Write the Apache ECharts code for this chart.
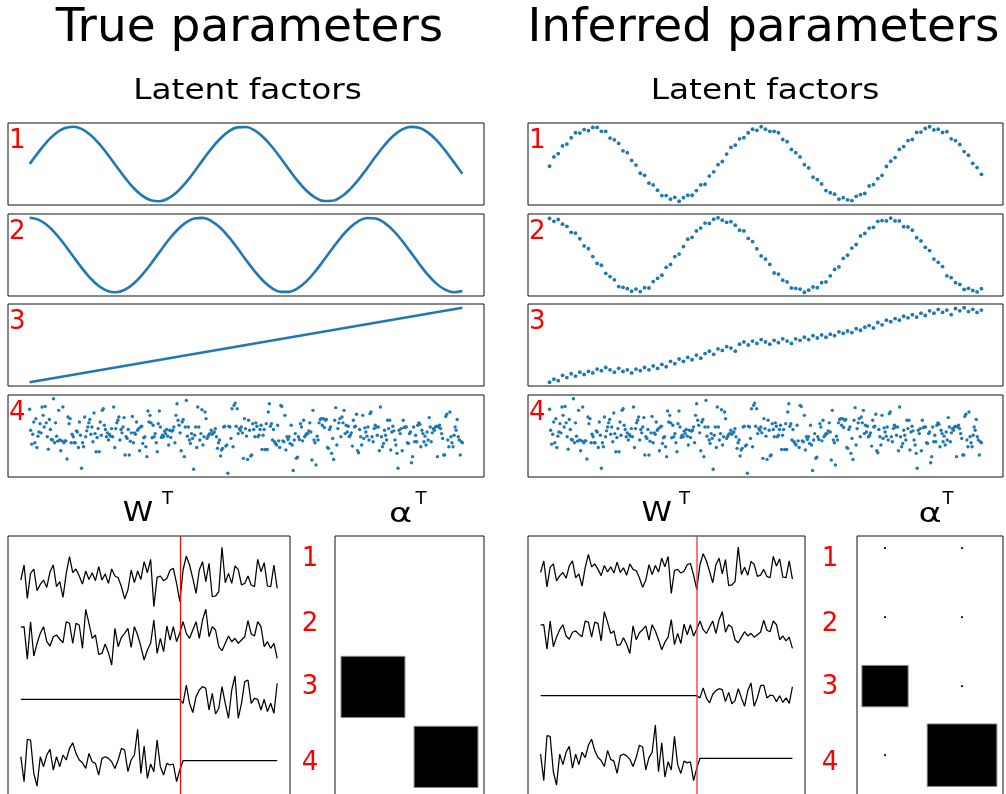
<!DOCTYPE html>
<html><head><meta charset="utf-8">
<script src="https://cdn.jsdelivr.net/npm/echarts@6/dist/echarts.min.js"></script>
<style>html,body{margin:0;padding:0;background:#fff}#c{width:1006px;height:794px}</style>
</head><body><div id="c"></div>
<script>
// ---------------- DATA ----------------
const factorLabels = ['1', '2', '3', '4'];
// true latent factors (sampled along time index)
const trueF1 = [0.000,0.314,0.596,0.818,0.957,1.000,0.941,0.787,0.553,0.264,-0.052,-0.363,-0.637,-0.847,-0.971,-0.997,-0.922,-0.753,-0.509,-0.213,0.105,0.412,0.677,0.874,0.982,0.991,0.900,0.718,0.463,0.162,-0.156,-0.459,-0.714,-0.898,-0.991,-0.983,-0.876,-0.680,-0.416,-0.110,0.208,0.504,0.750,0.920,0.996,0.972,0.850,0.641,0.368,0.058,-0.259];
const trueF2 = [1.000,0.949,0.803,0.575,0.289,-0.026,-0.339,-0.617,-0.833,-0.965,-0.999,-0.932,-0.771,-0.531,-0.239,0.078,0.388,0.658,0.861,0.977,0.995,0.911,0.736,0.487,0.187,-0.131,-0.435,-0.696,-0.886,-0.987,-0.988,-0.889,-0.700,-0.440,-0.136,0.182,0.482,0.733,0.909,0.994,0.978,0.863,0.661,0.392,0.084,-0.233,-0.527,-0.767,-0.930,-0.998,-0.966];
const trueF3 = [0.00, 1.00];
const noiseF4 = [1.77,0.38,-0.54,0.12,0.93,-0.45,1.15,-0.76,-0.01,0.27,0.82,0.21,1.92,1.37,0.60,1.96,0.87,-0.05,-0.87,1.09,0.43,-0.23,-0.27,2.47,-0.45,0.87,-0.01,-0.34,1.70,-0.27,-0.98,-0.32,1.92,-0.45,-0.32,-0.32,-1.52,1.26,0.82,1.15,-0.45,0.12,-0.05,-0.45,-0.45,0.34,0.27,-0.76,0.93,0.05,-2.14,-0.45,-0.71,1.26,-0.05,0.34,0.60,0.87,1.09,0.12,0.60,-0.38,1.52,0.16,-1.04,-0.10,0.49,-1.04,0.93,0.05,1.70,1.81,0.71,0.43,-0.05,0.21,-0.27,0.10,-0.01,0.49,-0.05,1.92,-0.76,0.49,0.87,1.04,1.26,-0.27,0.43,0.21,0.60,1.22,-1.26,-0.05,-0.16,0.43,-1.26,-0.34,0.21,1.30,-0.45,0.21,0.12,0.93,0.38,0.49,-0.98,0.60,0.65,-0.49,-0.12,-0.05,-0.71,-1.37,1.66,0.93,1.37,0.87,-0.12,0.71,-0.05,0.16,-0.45,-1.04,0.82,1.66,0.60,-0.10,0.05,-0.05,0.32,0.16,0.43,-0.01,-0.60,0.38,-0.10,0.32,0.38,0.60,-0.45,1.37,2.14,1.04,0.71,0.21,-0.98,0.93,1.09,-1.37,0.60,2.36,-0.01,0.60,-0.27,-0.49,0.16,-0.16,-2.20,0.05,0.60,-0.76,1.92,0.60,-0.27,0.16,1.74,-0.60,-0.05,1.59,1.15,-0.16,-0.01,0.12,0.16,0.38,0.12,0.21,0.27,0.49,-0.05,-0.82,-0.45,-0.27,-1.33,-0.93,-0.82,0.60,0.65,-0.67,-0.60,-2.47,0.65,0.60,-0.16,1.81,-0.71,2.03,2.18,0.65,1.81,0.16,0.49,0.38,0.60,0.21,-1.48,
1.15,0.49,-0.01,-1.55,1.04,0.38,-1.33,-1.26,0.82,0.43,-0.05,0.87,0.65,-0.05,0.05,0.43,0.71,-0.89,0.05,0.43,-0.89,0.82,-0.89,1.59,2.14,0.65,0.82,-0.27,0.43,-0.38,-0.49,-0.60,0.71,-0.32,-0.76,2.03,1.96,-0.32,-0.38,1.37,-0.93,-0.05,-0.23,-0.05,-0.49,0.71,-0.60,-2.29,-0.27,0.16,-1.48,-1.41,-0.05,-0.23,0.82,0.60,-0.32,1.04,-0.05,0.05,0.16,0.16,0.34,0.87,0.27,-1.59,1.70,-0.27,-0.45,-1.92,-0.01,-0.27,0.87,1.09,1.15,0.71,1.15,0.56,1.04,1.09,-0.76,-0.82,0.43,0.60,-1.15,-0.16,-1.55,1.04,1.88,-0.60,0.49,0.87,1.15,-0.05,1.26,0.87,1.70,0.16,0.71,0.27,0.65,-0.05,0.05,0.21,-0.67,1.04,0.60,0.65,1.44,-0.98,-1.11,0.43,-0.05,-0.60,1.37,-0.16,0.54,0.27,-0.01,0.60,-0.27,1.48,1.59,-0.05,-0.38,0.49,0.71,0.60,0.05,0.60,-0.98,1.92,-0.05,-0.71,-0.49,0.38,0.05,-0.27,1.04,0.49,1.04,-0.93,0.27,0.65,0.34,-0.27,-0.60,-1.15,-2.14,0.38,0.16,0.49,-0.98,1.04,0.56,0.60,0.60,-0.45,-0.49,0.16,0.27,-1.77,-1.37,0.60,-0.38,0.05,-0.38,0.71,0.87,0.78,-0.71,0.38,0.16,-0.38,-0.01,-0.60,0.27,-0.27,1.22,0.60,-0.38,0.21,0.49,0.38,0.60,0.65,-1.37,0.60,0.71,0.49,0.16,-0.16,-1.26,-1.26,1.30,1.44,-0.27,-0.71,1.59,-0.05,-0.45,-0.71,0.05,0.60,0.38,1.09,-0.05,-0.27,-1.26,-0.38,-0.45];
// inferred latent factors
const infF1 = [-0.06,0.20,0.29,0.51,0.56,0.74,0.88,0.87,0.97,0.94,1.03,1.03,0.92,0.92,0.73,0.68,0.58,0.37,0.32,0.10,-0.03,-0.26,-0.32,-0.54,-0.59,-0.74,-0.89,-0.89,-0.99,-0.94,-1.05,-0.95,-0.88,-0.88,-0.75,-0.59,-0.57,-0.34,-0.22,-0.02,0.07,0.28,0.47,0.53,0.71,0.74,0.88,0.98,0.95,1.05,0.98,0.92,0.92,0.88,0.69,0.63,0.41,0.32,0.20,-0.02,-0.11,-0.37,-0.44,-0.56,-0.75,-0.81,-0.85,-0.99,-0.95,-1.01,-1.03,-0.91,-0.86,-0.83,-0.62,-0.58,-0.41,-0.32,-0.07,0.08,0.18,0.41,0.49,0.66,0.69,0.89,0.90,1.00,1.05,0.96,0.98,0.89,0.91,0.71,0.66,0.55,0.35,0.25,0.02,-0.10,-0.29];
const infF2 = [1.03,0.95,1.00,0.87,0.81,0.64,0.62,0.46,0.26,0.18,-0.04,-0.23,-0.28,-0.51,-0.60,-0.69,-0.88,-0.90,-0.94,-1.01,-0.95,-1.02,-0.91,-0.92,-0.74,-0.65,-0.56,-0.34,-0.26,-0.04,0.03,0.24,0.45,0.50,0.68,0.76,0.90,0.89,1.01,1.05,0.98,0.92,0.94,0.84,0.70,0.68,0.47,0.38,0.18,-0.02,-0.11,-0.26,-0.50,-0.53,-0.70,-0.75,-0.92,-0.93,-0.95,-1.04,-0.98,-0.89,-0.91,-0.77,-0.75,-0.58,-0.40,-0.33,-0.09,0.00,0.20,0.30,0.54,0.61,0.76,0.78,0.95,0.97,0.96,1.04,0.96,0.96,0.80,0.79,0.70,0.49,0.40,0.22,0.13,-0.11,-0.20,-0.32,-0.58,-0.63,-0.77,-0.82,-0.96,-0.93,-0.99,-1.03,-0.94];
const infF3 = [0.00,0.04,0.02,0.09,0.06,0.11,0.08,0.13,0.10,0.14,0.12,0.17,0.15,0.19,0.16,0.13,0.18,0.14,0.16,0.12,0.17,0.15,0.19,0.16,0.21,0.18,0.23,0.20,0.27,0.24,0.30,0.27,0.32,0.29,0.35,0.31,0.37,0.40,0.36,0.43,0.41,0.46,0.44,0.40,0.49,0.52,0.48,0.53,0.50,0.55,0.52,0.49,0.54,0.51,0.56,0.53,0.50,0.56,0.54,0.58,0.55,0.60,0.57,0.61,0.58,0.62,0.60,0.65,0.63,0.66,0.64,0.69,0.67,0.71,0.73,0.70,0.77,0.74,0.80,0.78,0.82,0.80,0.85,0.83,0.87,0.84,0.89,0.86,0.92,0.89,0.94,0.90,0.93,0.87,0.95,0.92,0.96,0.91,0.94,0.90,0.93];
// loading matrix W^T rows (features 0..79, split between two views)
const viewSplit = 49;
const wRow1 = [-0.33,1.17,-2.17,0.33,0.77,-1.40,-0.77,-0.33,-1.07,0.50,1.17,-1.00,-0.50,-2.07,0.33,2.00,0.40,0.77,0.07,-0.73,0.57,-0.27,0.40,-0.40,1.00,-0.33,0.27,-0.67,0.77,0.07,-0.10,-1.00,-2.23,-1.33,0.67,-0.60,0.57,-0.27,1.50,0.40,1.73,-3.00,-0.07,0.07,-0.40,-0.17,0.67,0.83,-0.67,-2.50,0.67,2.07,1.17,-0.17,-1.67,0.67,1.50,-0.50,1.33,-2.00,-1.93,-1.50,2.93,-0.60,0.33,-0.67,1.07,0.73,-0.83,-0.67,0.07,-0.83,-1.00,1.73,0.50,1.40,-0.93,-1.00,1.17,-1.17];
const wRow2 = [1.07,1.13,-2.13,1.63,-1.80,-0.53,0.47,1.13,-0.37,-0.80,0.13,0.30,-0.13,-0.47,1.63,1.47,-0.53,1.47,1.30,-1.03,2.87,1.47,-0.03,0.30,-1.63,-1.53,-0.60,-1.47,-2.70,0.97,-0.87,0.07,0.47,0.97,-0.93,1.13,0.30,-0.87,-2.20,-1.20,-0.53,1.80,-1.53,-0.03,-1.37,1.20,-0.20,1.13,-0.37,0.53,1.63,0.47,-0.03,0.80,1.63,-0.03,1.80,2.87,0.13,1.13,0.80,-0.87,-1.27,-0.53,0.20,-0.37,-0.03,-0.53,-0.20,0.13,1.73,0.40,0.20,1.63,1.13,-0.87,-0.37,-1.03,-0.53,-2.03];
const wRow3 = [0,0,0,0,0,0,0,0,0,0,0,0,0,0,0,0,0,0,0,0,0,0,0,0,0,0,0,0,0,0,0,0,0,0,0,0,0,0,0,0,0,0,0,0,0,0,0,0,0,0,-0.40,1.43,-0.40,-1.33,0.27,0.93,1.27,1.10,-1.07,0.60,-1.47,-0.90,1.27,-0.40,-1.90,0.93,2.33,-1.90,-0.40,1.77,1.93,-0.40,0.10,0.00,-1.07,0.00,-1.23,-0.40,-1.40,1.60];
const wRow4 = [0.40,-2.10,2.13,2.07,-1.27,-2.53,0.40,-0.60,0.57,1.13,-0.93,0.40,-0.60,0.57,0.07,1.23,1.80,0.73,0.07,-0.20,-0.77,0.73,-0.10,-0.27,-1.43,0.23,0.40,0.23,-0.10,-0.77,0.07,1.23,1.07,-1.10,0.07,0.57,3.13,-1.27,1.47,-1.77,-0.33,-1.10,2.07,-0.60,-1.43,-0.27,-0.43,-0.33,-2.10,-0.93,0,0,0,0,0,0,0,0,0,0,0,0,0,0,0,0,0,0,0,0,0,0,0,0,0,0,0,0,0,0];
// alpha^T Hinton cells: [view column, factor row, relative box size]
const alphaTrue = [[0,1,0.006],[1,1,0.006],[1,2,0.006],[0,2,0.875],[1,3,0.875]];
const alphaInferred = [[0,0,0.025],[1,0,0.025],[0,1,0.025],[1,1,0.025],[1,2,0.025],[0,3,0.025],[0,2,0.60],[1,3,0.905]];

// ---------------- LAYOUT ----------------
const BLUE = '#1f77b4', FONT = '"DejaVu Sans"';
const panelTops = [123, 214, 304, 395], panelH = 82;
const sides = [
  {left: 8, width: 476, wLeft: 8, wWidth: 282, aLeft: 335, aWidth: 149,
   wAxes: [[-25.93, 4.07], [-19.8, 10.2], [-13.67, 16.33], [-7.53, 22.47]],
   aX: [-0.52, 1.52], aY: [-0.157, 4.13], split: '#ff0000', splitW: 1.2},
  {left: 528, width: 475, wLeft: 528, wWidth: 277, aLeft: 857, aWidth: 146,
   wAxes: [[-34.11, 4.35], [-27.04, 12.96], [-25.51, 29.04], [-7.33, 20.97]],
   aX: [-0.364, 1.532], aY: [-0.174, 4.17], split: 'rgba(238,60,60,0.85)', splitW: 1.6}
];
const grid = [], xAxis = [], yAxis = [], series = [];
const pmin = e => e.min - 0.05 * (e.max - e.min);
const pmax = e => e.max + 0.05 * (e.max - e.min);
function addGrid(r) { grid.push(Object.assign({show: true, borderColor: '#111', borderWidth: 1, backgroundColor: 'transparent', containLabel: false, outerBoundsMode: 'none'}, r)); return grid.length - 1; }
function addX(g, o) { xAxis.push(Object.assign({type: 'value', gridIndex: g, show: false, min: pmin, max: pmax, scale: true}, o || {})); return xAxis.length - 1; }
function addY(g, o) { yAxis.push(Object.assign({type: 'value', gridIndex: g, show: false, min: pmin, max: pmax, scale: true}, o || {})); return yAxis.length - 1; }
const idx = arr => arr.map((v, i) => [i, v]);

const latent = [
  [{kind: 'line', data: trueF1}, {kind: 'line', data: trueF2}, {kind: 'line', data: trueF3}, {kind: 'scatter', data: noiseF4}],
  [{kind: 'scatter', data: infF1}, {kind: 'scatter', data: infF2}, {kind: 'scatter', data: infF3}, {kind: 'scatter', data: noiseF4}]
];
const wRows = [wRow1, wRow2, wRow3, wRow4];

sides.forEach((s, si) => {
  // latent factor panels
  latent[si].forEach((f, k) => {
    const g = addGrid({left: s.left, top: panelTops[k], width: s.width, height: panelH});
    const xi = addX(g), yi = addY(g);
    if (f.kind === 'line') {
      series.push({type: 'line', xAxisIndex: xi, yAxisIndex: yi, data: idx(f.data), smooth: 0.4, showSymbol: false,
        lineStyle: {color: BLUE, width: 2.6}, silent: true});
    } else {
      series.push({type: 'scatter', xAxisIndex: xi, yAxisIndex: yi, data: idx(f.data), symbolSize: k < 3 ? 3.8 : 3.4,
        itemStyle: {color: BLUE, opacity: 1}, silent: true});
    }
  });
  // W^T panel
  const gw = addGrid({left: s.wLeft, top: 536, width: s.wWidth, height: 300});
  const xw = addX(gw);
  wRows.forEach((row, r) => {
    const yi = addY(gw, {min: s.wAxes[r][0], max: s.wAxes[r][1]});
    const ser = {type: 'line', xAxisIndex: xw, yAxisIndex: yi, data: idx(row), showSymbol: false,
      lineStyle: {color: '#000', width: 1.25}, silent: true};
    if (r === 0) ser.markLine = {silent: true, symbol: ['none', 'none'], label: {show: false},
      lineStyle: {color: s.split, width: s.splitW, type: 'solid'}, data: [{xAxis: viewSplit}]};
    series.push(ser);
  });
  // alpha^T Hinton panel
  const ga = addGrid({left: s.aLeft, top: 536, width: s.aWidth, height: 300});
  const xa = addX(ga, {min: s.aX[0], max: s.aX[1]});
  const ya = addY(ga, {min: s.aY[0], max: s.aY[1], inverse: true});
  series.push({type: 'custom', xAxisIndex: xa, yAxisIndex: ya, silent: true,
    data: si === 0 ? alphaTrue : alphaInferred,
    renderItem: (params, api) => {
      const c = api.value(0), r = api.value(1), z = api.value(2);
      const p0 = api.coord([c - z / 2, r - z / 2]), p1 = api.coord([c + z / 2, r + z / 2]);
      return {type: 'rect', shape: {x: Math.min(p0[0], p1[0]), y: Math.min(p0[1], p1[1]),
        width: Math.abs(p1[0] - p0[0]), height: Math.abs(p1[1] - p0[1])},
        style: {fill: z > 0.01 ? '#000' : '#ccc', stroke: z > 0.1 ? '#888' : null, lineWidth: z > 0.1 ? 1 : 0}};
    }});
});

// ---------------- TEXT ----------------
function txt(text, x, y, size, o) {
  o = o || {};
  const el = {type: 'text', x: x, y: y, silent: true,
    style: {text: text, x: 0, y: 0, fill: o.color || '#000', font: size + 'px ' + FONT,
      textAlign: o.align || 'center', textVerticalAlign: 'middle'}};
  if (o.scaleX) el.scaleX = o.scaleX;
  return el;
}
const graphic = [
  txt('True parameters', 249.5, 29, 47),
  txt('Inferred parameters', 763.5, 29, 47),
  txt('Latent factors', 247.5, 91.5, 29, {scaleX: 1.13}),
  txt('Latent factors', 765, 91.5, 29, {scaleX: 1.13}),
  txt('W', 138, 513.5, 27, {scaleX: 1.14}), txt('T', 167.5, 499, 18),
  txt('α', 400.5, 515, 27, {scaleX: 1.3}), txt('T', 421, 499, 18),
  txt('W', 656.7, 513.5, 27, {scaleX: 1.14}), txt('T', 684.5, 499, 18),
  txt('α', 930, 515, 27, {scaleX: 1.3}), txt('T', 948, 499, 18)
];
const wLabelY = [559, 624, 687, 763];
sides.forEach((s, si) => {
  factorLabels.forEach((lab, k) => {
    graphic.push(txt(lab, s.left + 1, panelTops[k] + 18.5, 26, {color: '#ff0000', align: 'left'}));
    graphic.push(txt(lab, si === 0 ? 310 : 830, wLabelY[k], 26, {color: '#ff0000'}));
  });
});

const chart = echarts.init(document.getElementById('c'), null, {renderer: 'canvas'});
chart.setOption({animation: false, backgroundColor: '#fff', grid, xAxis, yAxis, series, graphic});
</script></body></html>
